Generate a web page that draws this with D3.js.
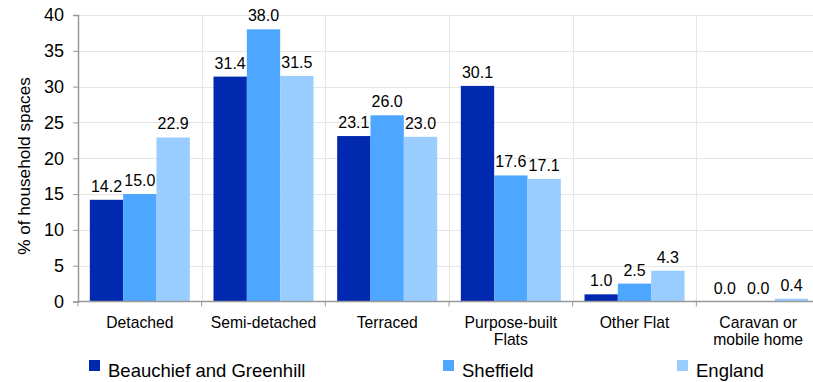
<!DOCTYPE html>
<html><head><meta charset="utf-8">
<script src="https://cdn.jsdelivr.net/npm/d3@7"></script>
<style>html,body{margin:0;padding:0;background:#fff;overflow:hidden}svg{display:block}text{font-family:"Liberation Sans",Arial,sans-serif;fill:#000}</style>
</head><body><svg id="c" width="813" height="382"></svg>
<script>
const categories = [["Detached"],["Semi-detached"],["Terraced"],["Purpose-built","Flats"],["Other Flat"],["Caravan or","mobile home"]];
const seriesNames = ["Beauchief and Greenhill","Sheffield","England"];
const beauchief = [14.2,31.4,23.1,30.1,1.0,0.0];
const sheffield = [15.0,38.0,26.0,17.6,2.5,0.0];
const england = [22.9,31.5,23.0,17.1,4.3,0.4];
const yTicks = [0,5,10,15,20,25,30,35,40];
const colors = ["#0029B0","#4DA6FF","#99CCFF"];
const series = [beauchief, sheffield, england];

(function(){
const svg = d3.select("#c");
const mLeft = 78, mRight = 820, mTop = 15, mBottom = 301.5;
const catIdx = d3.range(categories.length);
const x = d3.scaleBand().domain(catIdx).range([mLeft,mRight]).paddingInner(0).paddingOuter(0);
const x1 = d3.scaleBand().domain(d3.range(3)).range([0,x.bandwidth()]).paddingInner(0).paddingOuter(0.355);
const y = d3.scaleLinear().domain([0,40]).range([mBottom,mTop]);

svg.append("g").selectAll("line").data(yTicks.slice(1)).join("line")
  .attr("x1",mLeft).attr("x2",mRight).attr("y1",d=>Math.round(y(d))+0.5).attr("y2",d=>Math.round(y(d))+0.5)
  .attr("stroke","#e6e6e6").attr("stroke-width",1);
svg.append("g").selectAll("line").data(catIdx.slice(1)).join("line")
  .attr("x1",d=>Math.round(x(d))+0.5).attr("x2",d=>Math.round(x(d))+0.5).attr("y1",mTop).attr("y2",mBottom)
  .attr("stroke","#e6e6e6").attr("stroke-width",1);

series.forEach((vals,si)=>{
  const g = svg.append("g");
  g.selectAll("rect").data(vals).join("rect")
    .attr("x",(d,i)=>x(i)+x1(si)).attr("width",x1.bandwidth())
    .attr("y",d=>y(d)).attr("height",d=>mBottom-y(d)).attr("fill",colors[si]);
  g.selectAll("text").data(vals).join("text")
    .attr("x",(d,i)=>x(i)+x1(si)+x1.bandwidth()/2).attr("y",d=>y(d)-8)
    .attr("text-anchor","middle").style("font-size","16px").text(d=>d.toFixed(1));
});

const ya = svg.append("g").attr("transform",`translate(${mLeft},0)`)
  .call(d3.axisLeft(y).tickValues(yTicks).tickSize(5).tickPadding(9));
ya.select(".domain").attr("stroke","#999").attr("stroke-width",1.5);
ya.selectAll(".tick line").attr("stroke","#999");
ya.selectAll(".tick text").style("font-size","18px").attr("font-family","Liberation Sans, Arial, sans-serif").attr("fill","#000");

const xa = svg.append("g").attr("transform",`translate(0,${mBottom})`);
xa.append("line").attr("x1",mLeft).attr("x2",mRight).attr("stroke","#999").attr("stroke-width",1.5);
xa.selectAll("line.t").data(catIdx.concat([categories.length])).join("line")
  .attr("x1",d=>d<categories.length?x(d):mRight).attr("x2",d=>d<categories.length?x(d):mRight)
  .attr("y1",0).attr("y2",5).attr("stroke","#999");
const lab = xa.selectAll("text").data(categories).join("text")
  .attr("text-anchor","middle").attr("x",(d,i)=>x(i)+x.bandwidth()/2).style("font-size","15.7px");
lab.each(function(d){
  const xx = d3.select(this).attr("x");
  d3.select(this).selectAll("tspan").data(d).join("tspan")
    .attr("x",xx).attr("y",(t,j)=>26+j*17.5).text(t=>t);
});

svg.append("text").attr("transform","translate(30,166) rotate(-90)").attr("text-anchor","middle")
  .style("font-size","17.2px").text("% of household spaces");

const legX = [89,443,677];
const lg = svg.append("g").selectAll("g").data(seriesNames).join("g")
  .attr("transform",(d,i)=>`translate(${legX[i]},360)`);
lg.append("rect").attr("width",11).attr("height",11).attr("fill",(d,i)=>colors[i]);
lg.append("text").attr("x",19).attr("y",16.5).style("font-size","18.5px").text(d=>d);
})();
</script></body></html>
